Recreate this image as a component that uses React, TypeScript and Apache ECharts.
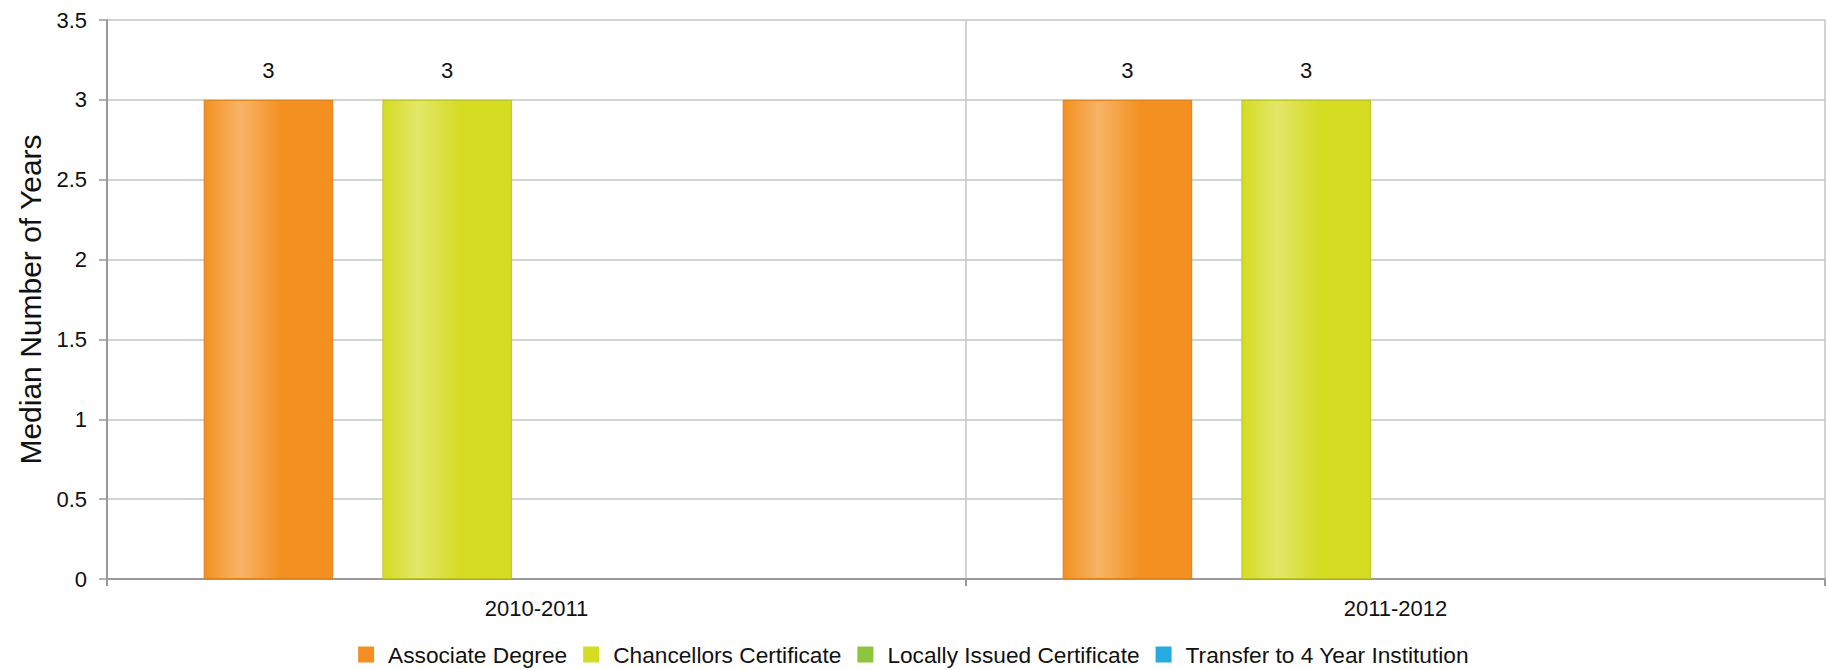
import React, { useEffect, useRef } from "react";
import * as echarts from "echarts";

const categories = ["2010-2011", "2011-2012"];
const seriesNames = [
  "Associate Degree",
  "Chancellors Certificate",
  "Locally Issued Certificate",
  "Transfer to 4 Year Institution",
];
const associateDegree = [3, 3];
const chancellorsCertificate = [3, 3];
const locallyIssuedCertificate: (number | null)[] = [null, null];
const transferTo4Year: (number | null)[] = [null, null];
const yTicks = { min: 0, max: 3.5, interval: 0.5 };

const palettes = [
  { base: "#F39021", light: "#F7B467", border: "#DE7F17" },
  { base: "#D5DC22", light: "#E2E76A", border: "#BFC51E" },
  { base: "#8CC63F", light: "#B2D97E", border: "#76AE2E" },
  { base: "#27AAE1", light: "#71C7EC", border: "#1A92C6" },
];

export default function App() {
  const ref = useRef<HTMLDivElement>(null);
  useEffect(() => {
    if (!ref.current) return;
    const chart = echarts.init(ref.current, null, { renderer: "svg" });
    const allData = [
      associateDegree,
      chancellorsCertificate,
      locallyIssuedCertificate,
      transferTo4Year,
    ];
    const font = "'Liberation Sans', Arial, sans-serif";
    chart.setOption({
      animation: false,
      textStyle: { fontFamily: font },
      color: palettes.map((p) => p.base),
      grid: { left: 107, right: 2, top: 20, bottom: 90 },
      legend: {
        top: 638,
        left: "center",
        itemWidth: 16,
        itemHeight: 16,
        itemGap: 16,
        icon: "rect",
        textStyle: { fontSize: 22.7, color: "#111", fontFamily: font, padding: [0, 0, 0, 9] },
        data: seriesNames.map((n, i) => ({
          name: n,
          itemStyle: { color: palettes[i].base, borderWidth: 0 },
        })),
      },
      xAxis: {
        type: "category",
        data: categories,
        axisLine: { show: true, lineStyle: { color: "#9a9a9a", width: 2 } },
        axisTick: { show: true, length: 7, lineStyle: { color: "#9a9a9a", width: 2 } },
        axisLabel: { fontSize: 22, color: "#111", margin: 18, fontFamily: font },
        splitLine: { show: true, lineStyle: { color: "#c4c4c4", width: 1.5 } },
      },
      yAxis: {
        type: "value",
        min: yTicks.min,
        max: yTicks.max,
        interval: yTicks.interval,
        name: "Median Number of Years",
        nameLocation: "middle",
        nameGap: 61,
        nameRotate: 90,
        nameTextStyle: { fontSize: 30, color: "#111", fontFamily: font },
        axisLine: { show: true, lineStyle: { color: "#9a9a9a", width: 2 } },
        axisTick: { show: true, length: 8, lineStyle: { color: "#9a9a9a", width: 1.5 } },
        axisLabel: { fontSize: 22, color: "#111", margin: 20, fontFamily: font },
        splitLine: { show: true, lineStyle: { color: "#c4c4c4", width: 1.5 } },
      },
      series: seriesNames.map((name, i) => ({
        name,
        type: "bar",
        data: allData[i],
        barWidth: 129.5,
        barGap: "38%",
        itemStyle: {
          color: new echarts.graphic.LinearGradient(0, 0, 1, 0, [
            { offset: 0, color: palettes[i].base },
            { offset: 0.28, color: palettes[i].light },
            { offset: 0.6, color: palettes[i].base },
            { offset: 1, color: palettes[i].base },
          ]),
          borderColor: palettes[i].border,
          borderWidth: 1,
        },
        label: {
          show: true,
          position: "top",
          distance: 18,
          fontSize: 22,
          color: "#111",
          fontFamily: font,
        },
      })),
    });
    return () => chart.dispose();
  }, []);
  return (
    <div
      ref={ref}
      style={{ position: "fixed", left: 0, top: 0, width: 1827, height: 669, background: "#fff" }}
    />
  );
}
